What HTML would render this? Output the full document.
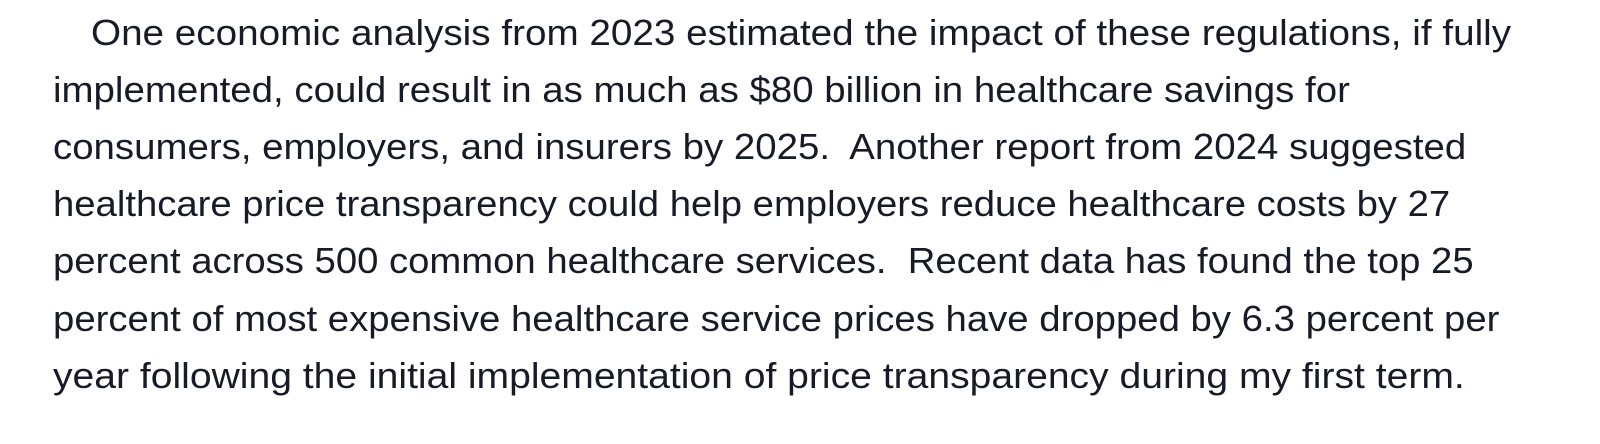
<!DOCTYPE html>
<html><head><meta charset="utf-8"><style>html,body{margin:0;padding:0;background:#fff;}</style></head>
<body>
<svg width="1600" height="444" xmlns="http://www.w3.org/2000/svg" style="display:block">
<g font-family="Liberation Sans, sans-serif" font-size="36" fill="#161b26">
<text transform="translate(91,45) scale(1.074,1)">One economic analysis from 2023 estimated the impact of these regulations, if fully</text>
<text transform="translate(53,102) scale(1.068,1)">implemented, could result in as much as $80 billion in healthcare savings for</text>
<text transform="translate(53,159) scale(1.067,1)">consumers, employers, and insurers by 2025.&#160; Another report from 2024 suggested</text>
<text transform="translate(53,216) scale(1.063,1)">healthcare price transparency could help employers reduce healthcare costs by 27</text>
<text transform="translate(53,273) scale(1.063,1)">percent across 500 common healthcare services.&#160; Recent data has found the top 25</text>
<text transform="translate(53,331) scale(1.065,1)">percent of most expensive healthcare service prices have dropped by 6.3 percent per</text>
<text transform="translate(53,388) scale(1.086,1)">year following the initial implementation of price transparency during my first term.</text>
</g>
</svg>
</body></html>
